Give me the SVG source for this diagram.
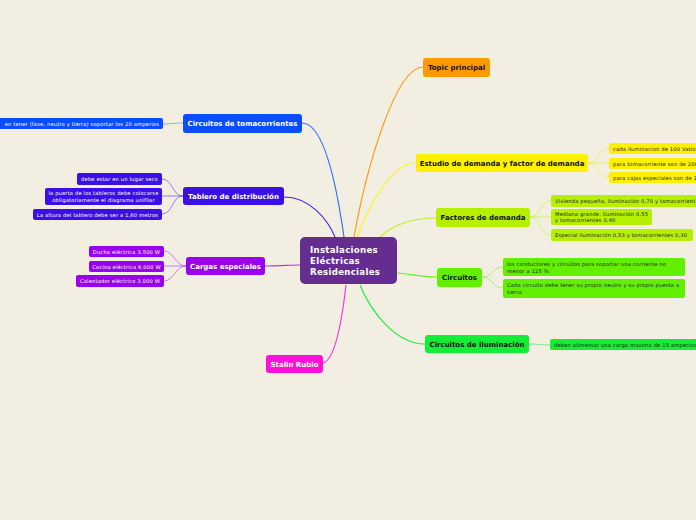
<svg xmlns="http://www.w3.org/2000/svg" width="696" height="520" viewBox="0 0 696 520">
<style>
text{font-family:"DejaVu Sans","Liberation Sans",sans-serif}
.m{font-size:7px;font-weight:bold;fill:#fff;text-anchor:middle}
.md{font-size:7px;font-weight:bold;fill:#111;text-anchor:middle}
.l{font-size:5.2px;fill:#fff;text-anchor:middle;letter-spacing:0.15px}
.r{font-size:5.2px;fill:#222;letter-spacing:0.15px}
.c{fill:none;stroke-width:1.2}
.t{fill:none;stroke-width:0.7}
</style>
<rect width="696" height="520" fill="#f2efe2"/>
<g id="connectors">
<path class="c" stroke="#3a6cff" d="M302,123 C325,123 338,195 344,237"/>
<path class="c" stroke="#4a22ee" d="M284,197 C310,197 328,220 335,237"/>
<path class="c" stroke="#a23af0" d="M265,266 C280,266 290,265 300,265"/>
<path class="c" stroke="#ff33e0" d="M323,363 C335,360 342,320 346,285"/>
<path class="c" stroke="#ff9a10" d="M423,67 C395,67 366,170 354,237"/>
<path class="c" stroke="#fff020" d="M416,163 C390,163 368,210 357,237"/>
<path class="c" stroke="#b8f020" d="M436,218 C410,218 392,226 380,237"/>
<path class="c" stroke="#66f020" d="M437,277 C420,277 410,274 397,273"/>
<path class="c" stroke="#20ee40" d="M425,344 C395,344 370,310 360,285"/>
<path class="t" stroke="#6a8cff" d="M183,123 C175,123 170,124 163,124"/>
<path class="t" stroke="#6a4cf0" d="M183,196 C172,196 173,179 162,179"/>
<path class="t" stroke="#6a4cf0" d="M183,196 C175,196 170,196 162,196"/>
<path class="t" stroke="#6a4cf0" d="M183,196 C172,196 173,214 162,214"/>
<path class="t" stroke="#b050f0" d="M186,266 C175,266 174,251 164,251"/>
<path class="t" stroke="#b050f0" d="M186,266 C178,266 172,266 164,266"/>
<path class="t" stroke="#b050f0" d="M186,266 C175,266 174,281 164,281"/>
<path class="t" stroke="#f5e840" d="M588,163 C599,163 598,148 609,148"/>
<path class="t" stroke="#f5e840" d="M588,163 C596,163 601,163 609,163"/>
<path class="t" stroke="#f5e840" d="M588,163 C599,163 598,177 609,177"/>
<path class="t" stroke="#c0f040" d="M530,217 C541,217 540,201 551,201"/>
<path class="t" stroke="#c0f040" d="M530,217 C540,217 542,217 551,217"/>
<path class="t" stroke="#c0f040" d="M530,217 C541,217 540,235 551,235"/>
<path class="t" stroke="#80f040" d="M482,277 C493,277 492,267 503,267"/>
<path class="t" stroke="#80f040" d="M482,277 C493,277 492,288 503,288"/>
<path class="t" stroke="#40f060" d="M529,344 C538,344 542,345 550,345"/>
</g>
<g id="center">
<rect x="300" y="237" width="97" height="47" rx="5" fill="#662d91"/>
<text x="310" y="253" style="font-size:8.6px;font-weight:bold;fill:#fff;letter-spacing:0.3px">Instalaciones</text>
<text x="310" y="264" style="font-size:8.6px;font-weight:bold;fill:#fff;letter-spacing:0.3px">Eléctricas</text>
<text x="310" y="275" style="font-size:8.6px;font-weight:bold;fill:#fff;letter-spacing:0.3px">Residenciales</text>
</g>
<g id="topic-principal">
<rect x="423" y="58" width="67" height="19" rx="3" fill="#ff9900"/>
<text class="md" x="456.5" y="70">Topic principal</text>
</g>
<g id="estudio">
<rect x="416" y="154" width="172" height="18" rx="3" fill="#fff000"/>
<text class="md" x="502" y="166">Estudio de demanda y factor de demanda</text>
</g>
<g id="estudio-1"><rect x="609" y="143" width="95" height="11" rx="2" fill="#fff000"/><text class="r" x="613" y="150.5">cada iluminacion de 100 Vatios</text></g>
<g id="estudio-2"><rect x="609" y="158" width="95" height="11" rx="2" fill="#fff000"/><text class="r" x="613" y="165.5">para tomacorriente son de 200</text></g>
<g id="estudio-3"><rect x="609" y="172" width="95" height="11" rx="2" fill="#fff000"/><text class="r" x="613" y="179.5">para cajas especiales son de 1</text></g>
<g id="factores">
<rect x="436" y="208" width="94" height="19" rx="3" fill="#b5f000"/>
<text class="md" x="483" y="220">Factores de demanda</text>
</g>
<g id="factores-1"><rect x="551" y="195" width="150" height="12" rx="2" fill="#b5f000"/><text class="r" x="555" y="203">Vivienda pequeña, iluminación 0,70 y tomacorrient</text></g>
<g id="factores-2"><rect x="551" y="209" width="101" height="16" rx="2" fill="#b5f000"/><text class="r" x="555" y="215.5">Mediana grande. iluminación 0,55</text><text class="r" x="555" y="222">y tomacorrientes  0,40</text></g>
<g id="factores-3"><rect x="551" y="229" width="142" height="12" rx="2" fill="#b5f000"/><text class="r" x="555" y="237">Especial iluminación 0,53 y tomacorrientes  0,30</text></g>
<g id="circuitos">
<rect x="437" y="268" width="45" height="19" rx="3" fill="#62f000"/>
<text class="md" x="459.5" y="280">Circuitos</text>
</g>
<g id="circuitos-1"><rect x="503" y="258" width="182" height="18" rx="2" fill="#62f000"/><text class="r" x="507" y="265.5">los conductores y circuitos para  soportar una corriente no</text><text class="r" x="507" y="272.5">menor a 125 %</text></g>
<g id="circuitos-2"><rect x="503" y="279" width="182" height="19" rx="2" fill="#62f000"/><text class="r" x="507" y="286.5">Cada circuito debe tener su propio neutro y su propio puesta a</text><text class="r" x="507" y="293.5">tierra</text></g>
<g id="iluminacion">
<rect x="425" y="335" width="104" height="18" rx="3" fill="#11ee33"/>
<text class="md" x="477" y="347">Circuitos de iluminación</text>
</g>
<g id="iluminacion-1"><rect x="550" y="339" width="150" height="11" rx="2" fill="#11ee33"/><text class="r" x="554" y="346.5">deben alimentar una carga maxima de 15 amperios</text></g>
<g id="stalin">
<rect x="266" y="355" width="57" height="18" rx="3" fill="#ff10d8"/>
<text class="m" x="294.5" y="367">Stalin Rubio</text>
</g>
<g id="tomacorrientes">
<rect x="183" y="114" width="119" height="19" rx="3" fill="#0a4cff"/>
<text class="m" x="242.5" y="126">Circuitos de tomacorrientes</text>
</g>
<g id="tomacorrientes-1"><rect x="-5" y="118" width="168" height="11" rx="2" fill="#0a4cff"/><text class="l" x="159" y="125.5" style="text-anchor:end">en tener (fase, neutro y tierra) soportar  los 20 amperios</text></g>
<g id="tablero">
<rect x="183" y="187" width="101" height="18" rx="3" fill="#3b0fe6"/>
<text class="m" x="233.5" y="199">Tablero de distribución</text>
</g>
<g id="tablero-1"><rect x="77" y="173" width="85" height="12" rx="2" fill="#3b0fe6"/><text class="l" x="119.5" y="181">debe estar en un lugar seco</text></g>
<g id="tablero-2"><rect x="45" y="188" width="117" height="17" rx="2" fill="#3b0fe6"/><text class="l" x="103.5" y="195">la puerta de los tableros debe colocarse</text><text class="l" x="103.5" y="201.5">obligatoriamente el diagrama unifilar</text></g>
<g id="tablero-3"><rect x="33" y="209" width="129" height="11" rx="2" fill="#3b0fe6"/><text class="l" x="97.5" y="216.5">La altura del tablero debe ser a 1,60 metros</text></g>
<g id="cargas">
<rect x="186" y="257" width="79" height="18" rx="3" fill="#9900ee"/>
<text class="m" x="225.5" y="269">Cargas especiales</text>
</g>
<g id="cargas-1"><rect x="89" y="246" width="75" height="11" rx="2" fill="#9900ee"/><text class="l" x="126.5" y="253.5">Ducha eléctrica 3.500 W</text></g>
<g id="cargas-2"><rect x="89" y="261" width="75" height="11" rx="2" fill="#9900ee"/><text class="l" x="126.5" y="268.5">Cocina eléctrica 6.000 W</text></g>
<g id="cargas-3"><rect x="76" y="275" width="88" height="12" rx="2" fill="#9900ee"/><text class="l" x="120" y="283">Calentador eléctrico 3.000 W</text></g>
</svg>
